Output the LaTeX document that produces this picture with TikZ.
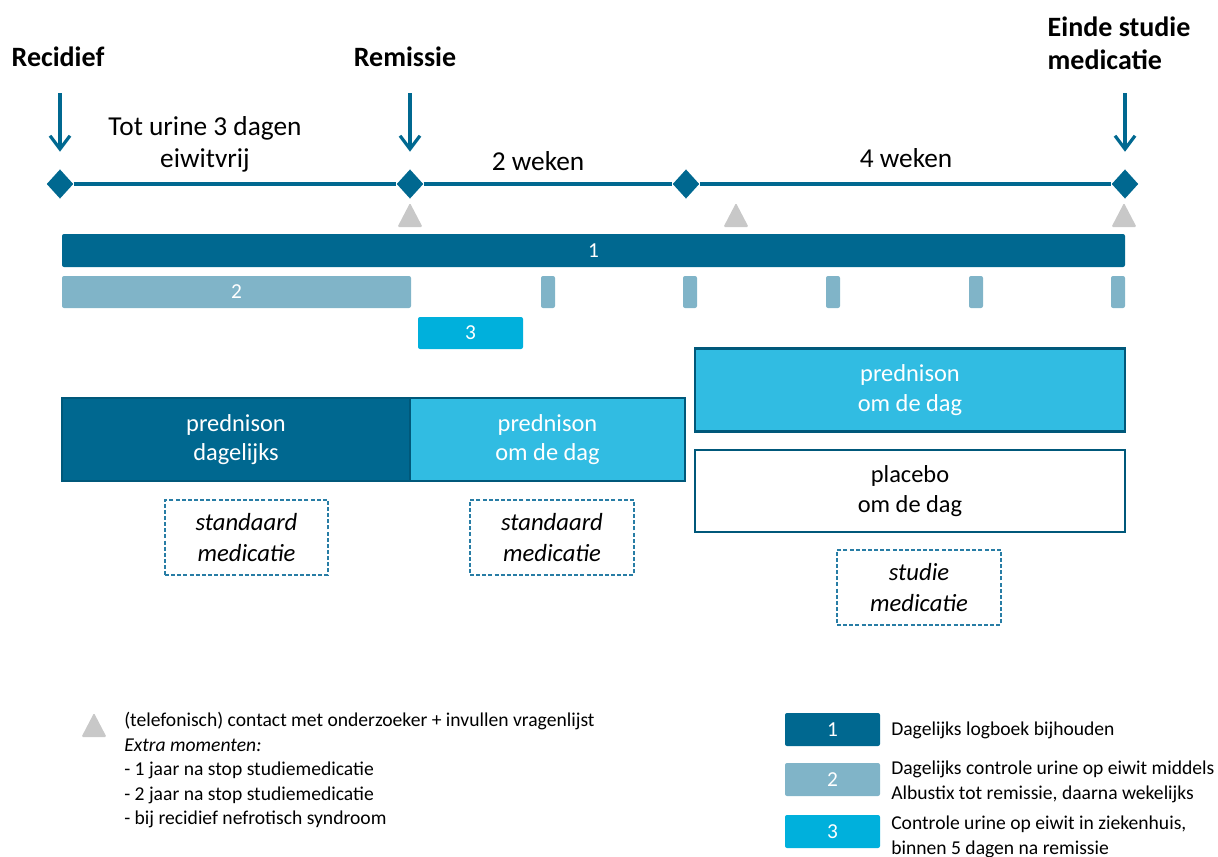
\documentclass[tikz,border=0pt]{standalone}
\usepackage{fontspec}
\setmainfont{Carlito}
\usetikzlibrary{shapes.geometric,arrows.meta}

\definecolor{tlblue}{RGB}{0,104,144}
\definecolor{tldark}{RGB}{0,88,122}
\definecolor{tlpale}{RGB}{128,180,200}
\definecolor{tlcyan}{RGB}{0,176,220}
\definecolor{tlsky}{RGB}{49,188,226}
\definecolor{tldash}{RGB}{40,125,165}
\definecolor{tlgray}{RGB}{200,200,200}

\tikzset{
  sized/.style 2 args={minimum width=#1*0.75pt, minimum height=#2*0.75pt},
  milestone/.style={diamond, fill=tlblue, inner sep=0pt, minimum width=20pt, minimum height=22pt},
  tline/.style={tlblue, line width=3pt},
  drop/.style={tlblue, line width=2.4pt, -{Straight Barb[length=10pt,width=15pt,line width=2.4pt]},
    shorten >=13pt},
  contact/.style={fill=tlgray, rounded corners=1pt},
  bar/.style={inner sep=0pt, rounded corners=1.5pt, text=white, font=\fontsize{16}{19}\selectfont},
  drug/.style={inner sep=0pt, line width=2pt, draw=tldark, align=center,
    font=\fontsize{18.3}{22}\selectfont},
  kind/.style={inner sep=0pt, draw=tldash, line width=0.9pt, dash pattern=on 3pt off 1.6pt,
    align=center, font=\fontsize{18.5}{23}\selectfont\itshape},
  title/.style={font=\fontsize{21}{24.75}\selectfont\bfseries},
  span/.style={font=\fontsize{20.5}{24}\selectfont, align=center},
  note/.style={font=\fontsize{14.7}{18.4}\selectfont, align=left, inner sep=0pt}
}

\begin{document}
\begin{tikzpicture}[x=0.75pt,y=-0.75pt]
  \useasboundingbox (0,0) rectangle (1218,857);

  % Milestones
  \node[milestone] (rec) at (60,184) {};
  \node[milestone] (rem) at (410,184) {};
  \node[milestone] (wk2) at (686,184) {};
  \node[milestone] (end) at (1125,184) {};
  \draw[tline] (rec) -- (rem) -- (wk2) -- (end);

  % Titles and arrows
  \node[title] (recT) at (58,57) {Recidief};
  \node[title] (remT) at (405,57) {Remissie};
  \node[title, align=left, anchor=west] (endT) at (1043,43) {Einde studie\\medicatie};
  \coordinate (recA) at (60,93);
  \coordinate (remA) at (410,93);
  \coordinate (endA) at (1125,93);
  \draw[drop] (recA) -- (rec.north);
  \draw[drop] (remA) -- (rem.north);
  \draw[drop] (endA) -- (end.north);

  \node[span] (sp1) at (205,144) {Tot urine 3 dagen\\eiwitvrij};
  \node[span] (sp2) at (538,161) {2 weken};
  \node[span] (sp3) at (906,158) {4 weken};

  % Contact moments
  \foreach \x/\y in {410/215, 736/215, 1124/215, 94/725}
    \fill[contact] (\x-12.5,\y+12) -- (\x,\y-12) -- (\x+12.5,\y+12) -- cycle;

  % Bars 1, 2, 3
  \node[bar, fill=tlblue, sized={1063}{33}] (logbar) at (593.5,250.5) {1};
  \node[bar, fill=tlpale, sized={349}{32}] (urbar) at (236.5,292) {2};
  \foreach \x in {548,690,833,976,1118}
    \fill[tlpale, rounded corners=1.5pt] (\x-7,276) rectangle (\x+7,308);
  \node[bar, fill=tlcyan, sized={105}{32}] (hospbar) at (470.5,333) {3};

  % Medication
  \node[drug, fill=tlblue, text=white, sized={348}{83}] (pdaily) at (236,439.5)
    {prednison\\dagelijks};
  \node[drug, fill=tlsky, text=white, sized={275}{83}] (palt) at (547.5,439.5)
    {prednison\\om de dag};
  \node[drug, fill=tlsky, text=white, sized={430}{83}] (pstudy) at (910,390)
    {prednison\\om de dag};
  \node[drug, fill=white, sized={430}{82}] (placebo) at (910,491)
    {placebo\\om de dag};

  \node[kind, sized={163}{75}] (std1) at (246.5,537.5) {standaard\\medicatie};
  \node[kind, sized={164}{75}] (std2) at (552,537.5) {standaard\\medicatie};
  \node[kind, sized={164}{75}] (stu) at (919,587.5) {studie\\medicatie};

  % Legend
  \node[note, anchor=north west] (lctext) at (124,712)
    {(telefonisch) contact met onderzoeker + invullen vragenlijst\\
     \textit{Extra momenten:}\\
     - 1 jaar na stop studiemedicatie\\
     - 2 jaar na stop studiemedicatie\\
     - bij recidief nefrotisch syndroom};

  \node[bar, fill=tlblue, sized={95}{33}] (l1) at (832.5,729.5) {1};
  \node[bar, fill=tlpale, sized={95}{33}] (l2) at (832.5,779.5) {2};
  \node[bar, fill=tlcyan, sized={95}{33}] (l3) at (832.5,831.5) {3};
  \node[note, anchor=west] (l1t) at (891,730) {Dagelijks logboek bijhouden};
  \node[note, anchor=west] (l2t) at (891,782)
    {Dagelijks controle urine op eiwit middels\\Albustix tot remissie, daarna wekelijks};
  \node[note, anchor=west] (l3t) at (891,837)
    {Controle urine op eiwit in ziekenhuis,\\binnen 5 dagen na remissie};
\end{tikzpicture}
\end{document}
